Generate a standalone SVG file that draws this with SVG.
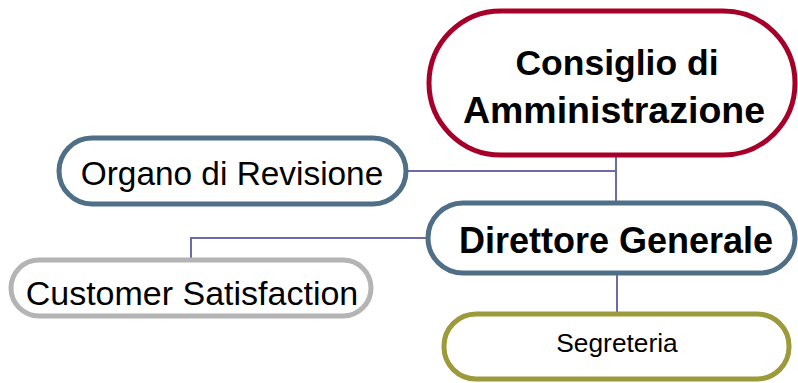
<svg xmlns="http://www.w3.org/2000/svg" width="798" height="383" viewBox="0 0 798 383">
<style>
.box{fill:#fff;stroke-width:5}
.t{font-family:"Liberation Sans",Arial,sans-serif;fill:#000;text-anchor:middle}
.b{font-weight:bold}
.conn{fill:none;stroke:#6E6AA8;stroke-width:2}
</style>
<rect width="798" height="383" fill="#fff"/>
<g id="connectors">
<path class="conn" d="M616,155 V203"/>
<path class="conn" d="M407,171 H616"/>
<path class="conn" d="M427,238 H191 V258"/>
<path class="conn" d="M617,273 V313"/>
</g>
<g id="consiglio">
<rect class="box" x="429" y="11" width="366" height="144" rx="72" stroke="#A6002A"/>
<text class="t b" x="617" y="75" font-size="35.5">Consiglio di</text>
<text class="t b" x="614" y="123" font-size="37.5">Amministrazione</text>
</g>
<g id="organo">
<rect class="box" x="59" y="138" width="347" height="66" rx="33" stroke="#4E6F86"/>
<text class="t" x="232" y="185" font-size="33.4">Organo di Revisione</text>
</g>
<g id="direttore">
<rect class="box" x="428" y="203" width="367" height="70" rx="35" stroke="#4E6F86"/>
<text class="t b" x="616" y="253" font-size="36">Direttore Generale</text>
</g>
<g id="customer">
<rect class="box" x="11" y="260" width="360" height="56" rx="28" stroke="#B4B4B4"/>
<text class="t" x="192" y="305" font-size="34">Customer Satisfaction</text>
</g>
<g id="segreteria">
<rect class="box" x="444" y="314" width="345" height="65" rx="32" stroke="#9C9A3A"/>
<text class="t" x="617" y="352" font-size="26.3">Segreteria</text>
</g>
</svg>
